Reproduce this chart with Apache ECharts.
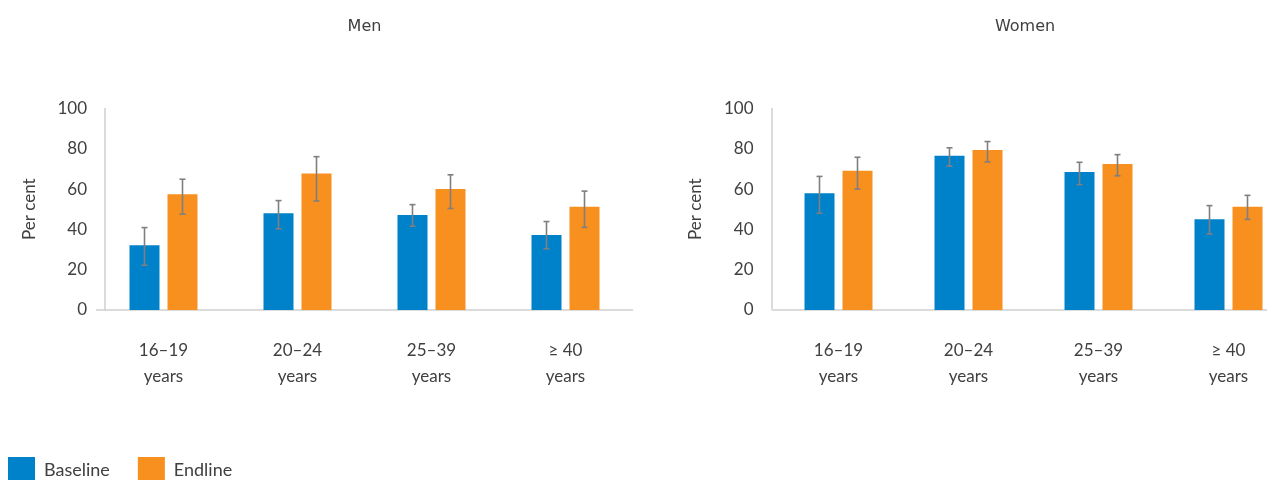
<!DOCTYPE html>
<html>
<head>
<meta charset="utf-8">
<script src="https://cdn.jsdelivr.net/npm/echarts@6/dist/echarts.min.js"></script>
<style>
html,body{margin:0;padding:0;background:#fff;}
#chart{width:1267px;height:480px;}
</style>
</head>
<body>
<div id="chart"></div>
<script>
// ---- Data ----
var categories = ['16–19\nyears', '20–24\nyears', '25–39\nyears', '≥ 40\nyears'];
var categoryIndex = [0, 1, 2, 3];
var yTicks = [0, 20, 40, 60, 80, 100];
var panelTitles = ['Men', 'Women'];
var seriesNames = ['Baseline', 'Endline'];

var menBaseline      = [32.1, 48.0, 47.1, 37.2];
var menBaselineLow   = [22.2, 40.3, 41.6, 30.4];
var menBaselineHigh  = [40.9, 54.3, 52.3, 43.9];
var menEndline       = [57.4, 67.8, 60.0, 51.2];
var menEndlineLow    = [47.6, 54.1, 50.4, 41.0];
var menEndlineHigh   = [64.9, 76.1, 67.1, 59.0];

var womenBaseline     = [58.0, 76.6, 68.5, 45.0];
var womenBaselineLow  = [48.0, 71.4, 62.2, 37.7];
var womenBaselineHigh = [66.3, 80.5, 73.3, 51.8];
var womenEndline      = [69.1, 79.4, 72.5, 51.2];
var womenEndlineLow   = [60.0, 73.5, 66.6, 45.0];
var womenEndlineHigh  = [75.8, 83.6, 77.1, 56.9];

// ---- Styling ----
var BLUE = '#0082ca';
var ORANGE = '#f7901e';
var TEXT = '#404040';
var AXIS = '#cfcfcf';
var ERR = '#7f7f7f';
var FONT = 'Lato, "Noto Sans", sans-serif';
var TITLE_FONT = '"DejaVu Sans", sans-serif';
var BAR_W = 30, BAR_GAP_PX = 8;
var OFFSET = (BAR_W + BAR_GAP_PX) / 2;
var W = 1267;

// Women panel: category bands of 130px starting at x=773.5, running past the canvas edge
var WOMEN_LEFT = 773.5, WOMEN_BAND = 130;
var womenXMax = -0.5 + (W - WOMEN_LEFT) / WOMEN_BAND;

function pairs(vals) { return vals.map(function (v, i) { return [categoryIndex[i], v]; }); }
function errData(low, high) {
  return low.map(function (l, i) { return [categoryIndex[i], l, high[i]]; });
}
function errSeries(name, gridIdx, low, high, dx) {
  return {
    type: 'custom', name: name, xAxisIndex: gridIdx, yAxisIndex: gridIdx, z: 5,
    silent: true,
    encode: { x: 0, y: [1, 2] },
    data: errData(low, high),
    renderItem: function (params, api) {
      var lo = api.coord([api.value(0), api.value(1)]);
      var hi = api.coord([api.value(0), api.value(2)]);
      var x = lo[0] + dx;
      var cap = 3;
      var st = { stroke: ERR, lineWidth: 1.6 };
      return { type: 'group', children: [
        { type: 'line', shape: { x1: x, y1: lo[1], x2: x, y2: hi[1] }, style: st },
        { type: 'line', shape: { x1: x - cap, y1: lo[1], x2: x + cap, y2: lo[1] }, style: st },
        { type: 'line', shape: { x1: x - cap, y1: hi[1], x2: x + cap, y2: hi[1] }, style: st }
      ]};
    }
  };
}

var grids = [
  { left: 96.5, width: 536, top: 108.5, bottom: 170 },
  { left: WOMEN_LEFT, right: 0, top: 108.5, bottom: 170 }
];

var labelStyle = { interval: 0, fontSize: 17, lineHeight: 26, margin: 28, color: TEXT, fontFamily: FONT };

function yAx(i, off) {
  return {
    type: 'value', gridIndex: i, min: yTicks[0], max: yTicks[yTicks.length - 1],
    interval: yTicks[1] - yTicks[0], offset: off,
    name: 'Per cent', nameLocation: 'middle', nameGap: 67, nameRotate: 90,
    nameTextStyle: { fontSize: 17, color: TEXT, fontFamily: FONT },
    splitLine: { show: false },
    axisTick: { show: false },
    axisLine: { show: true, onZero: false, lineStyle: { color: AXIS, width: 1.5 } },
    axisLabel: { fontSize: 17, color: TEXT, margin: 18, fontFamily: FONT, padding: [3, 0, 0, 0] }
  };
}

var barGap = (BAR_GAP_PX / BAR_W * 100) + '%';

var option = {
  animation: false,
  backgroundColor: '#ffffff',
  textStyle: { fontFamily: FONT },
  graphic: [
    { type: 'text', style: { text: panelTitles[0], fontSize: 16, fill: '#404040', fontFamily: TITLE_FONT, textAlign: 'center', textVerticalAlign: 'middle' }, position: [364.5, 27] },
    { type: 'text', style: { text: panelTitles[1], fontSize: 16, fill: '#404040', fontFamily: TITLE_FONT, textAlign: 'center', textVerticalAlign: 'middle' }, position: [1025, 27] }
  ],
  legend: {
    data: seriesNames, left: 8, top: 457, padding: 0,
    itemWidth: 27, itemHeight: 27, itemGap: 28,
    icon: 'rect',
    textStyle: { fontSize: 18, color: TEXT, fontFamily: FONT, padding: [0, 0, 0, 4] }
  },
  grid: grids,
  xAxis: [
    {
      type: 'category', gridIndex: 0, data: categories,
      axisTick: { show: false },
      axisLine: { lineStyle: { color: AXIS, width: 1.5 } },
      axisLabel: labelStyle
    },
    {
      type: 'value', gridIndex: 1, min: -0.5, max: womenXMax,
      splitLine: { show: false },
      axisTick: { show: false },
      axisLine: { onZero: false, lineStyle: { color: AXIS, width: 1.5 } },
      axisLabel: Object.assign({}, labelStyle, {
        customValues: categoryIndex,
        formatter: function (v) { return categories[Math.round(v)]; }
      })
    }
  ],
  yAxis: [yAx(0, -8.5), yAx(1, 2)],
  series: [
    { type: 'bar', name: seriesNames[0], xAxisIndex: 0, yAxisIndex: 0, data: menBaseline, barWidth: BAR_W, barGap: barGap, itemStyle: { color: BLUE } },
    { type: 'bar', name: seriesNames[1], xAxisIndex: 0, yAxisIndex: 0, data: menEndline, barWidth: BAR_W, barGap: barGap, itemStyle: { color: ORANGE } },
    { type: 'bar', name: seriesNames[0], xAxisIndex: 1, yAxisIndex: 1, data: pairs(womenBaseline), barWidth: BAR_W, barGap: barGap, itemStyle: { color: BLUE } },
    { type: 'bar', name: seriesNames[1], xAxisIndex: 1, yAxisIndex: 1, data: pairs(womenEndline), barWidth: BAR_W, barGap: barGap, itemStyle: { color: ORANGE } },
    errSeries('errMB', 0, menBaselineLow, menBaselineHigh, -OFFSET),
    errSeries('errME', 0, menEndlineLow, menEndlineHigh, OFFSET),
    errSeries('errWB', 1, womenBaselineLow, womenBaselineHigh, -OFFSET),
    errSeries('errWE', 1, womenEndlineLow, womenEndlineHigh, OFFSET)
  ]
};

var chart = echarts.init(document.getElementById('chart'), null, { renderer: 'canvas' });
chart.setOption(option);
</script>
</body>
</html>
